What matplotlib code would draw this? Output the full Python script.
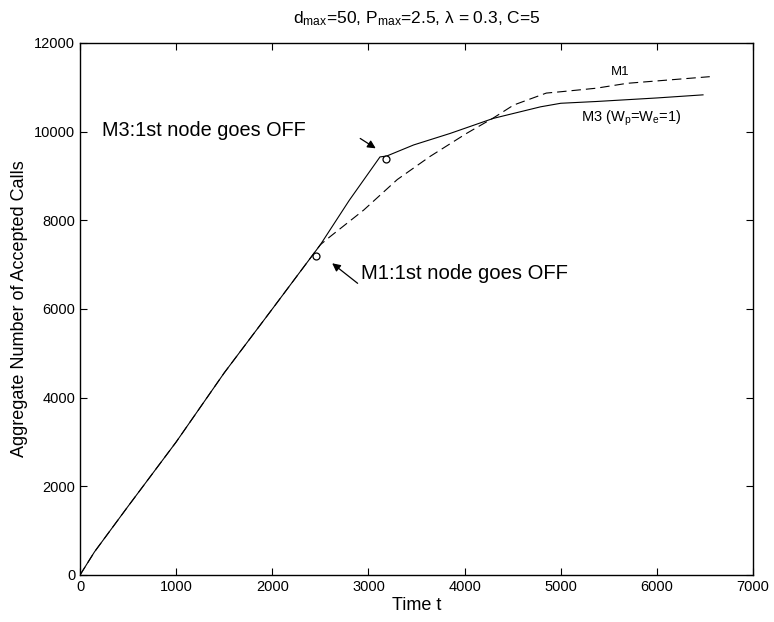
import numpy as np
import matplotlib
matplotlib.use("Agg")
import matplotlib.pyplot as plt

plt.rcParams["font.family"] = ["Liberation Sans", "DejaVu Sans"]
plt.rcParams["mathtext.fontset"] = "custom"
plt.rcParams["mathtext.rm"] = "Liberation Sans"
plt.rcParams["mathtext.it"] = "Liberation Sans:italic"

# Aggregate accepted calls over time, scheme M3 (solid) and M1 (dashed)
t_m3 = [0, 150, 500, 1000, 1500, 2000, 2500, 2800, 3120, 3190, 3470, 3850,
        4300, 4790, 5000, 5370, 6000, 6480]
calls_m3 = [0, 520, 1550, 3000, 4560, 6000, 7450, 8450, 9430, 9450, 9700, 9960,
            10300, 10560, 10640, 10680, 10760, 10830]

t_m1 = [0, 150, 500, 1000, 1500, 2000, 2500, 2600, 2950, 3300, 3640, 4020,
        4300, 4510, 4850, 5000, 5370, 5690, 6550]
calls_m1 = [0, 520, 1550, 3000, 4560, 6000, 7450, 7630, 8230, 8920, 9440, 9960,
            10310, 10600, 10870, 10900, 10980, 11090, 11240]

# points where the first node switches off
off_m3 = (3183, 9384)
off_m1 = (2455, 7196)

fig = plt.figure(figsize=(7.74, 6.22), dpi=100)
ax = fig.add_axes([0.1034, 0.0756, 0.8695, 0.8553])

ax.plot(t_m3, calls_m3, "k-", lw=0.8)
ax.plot(t_m1, calls_m1, "k--", lw=0.8, dashes=(8.5, 4.5))

for px, py in (off_m3, off_m1):
    ax.plot(px, py, "o", mfc="white", mec="k", ms=5, mew=0.9)

arrow = dict(arrowstyle="-|>", color="k", lw=0.9, mutation_scale=12)
ax.annotate("", xy=(3100, 9590), xytext=(2890, 9880), arrowprops=arrow)
ax.annotate("", xy=(2600, 7070), xytext=(2910, 6540), arrowprops=arrow)

ax.text(230, 10030, "M3:1st node goes OFF", fontsize=14.3, va="center")
ax.text(2925, 6800, "M1:1st node goes OFF", fontsize=14.6, va="center")
ax.text(5620, 11350, "M1", fontsize=9.5, ha="center", va="center")
ax.text(5735, 10300, r"M3 (W$_{\rm p}$=W$_{\rm e}$=1)", fontsize=10.5,
        ha="center", va="center")

ax.set_xlim(0, 7000)
ax.set_ylim(0, 12000)
ax.set_xticks(np.arange(0, 7001, 1000))
ax.set_yticks(np.arange(0, 12001, 2000))
ax.tick_params(direction="in", top=True, right=True, length=5, width=0.8,
               labelsize=10.5)
for s in ax.spines.values():
    s.set_linewidth(1.0)

ax.set_xlabel("Time t", fontsize=13, labelpad=2)
ax.set_ylabel("Aggregate Number of Accepted Calls", fontsize=13, labelpad=4)
ax.set_title(r"d$_{\rm max}$=50, P$_{\rm max}$=2.5, λ = 0.3, C=5",
             fontsize=12.5, pad=14)

fig.savefig("out.png", dpi=100)
